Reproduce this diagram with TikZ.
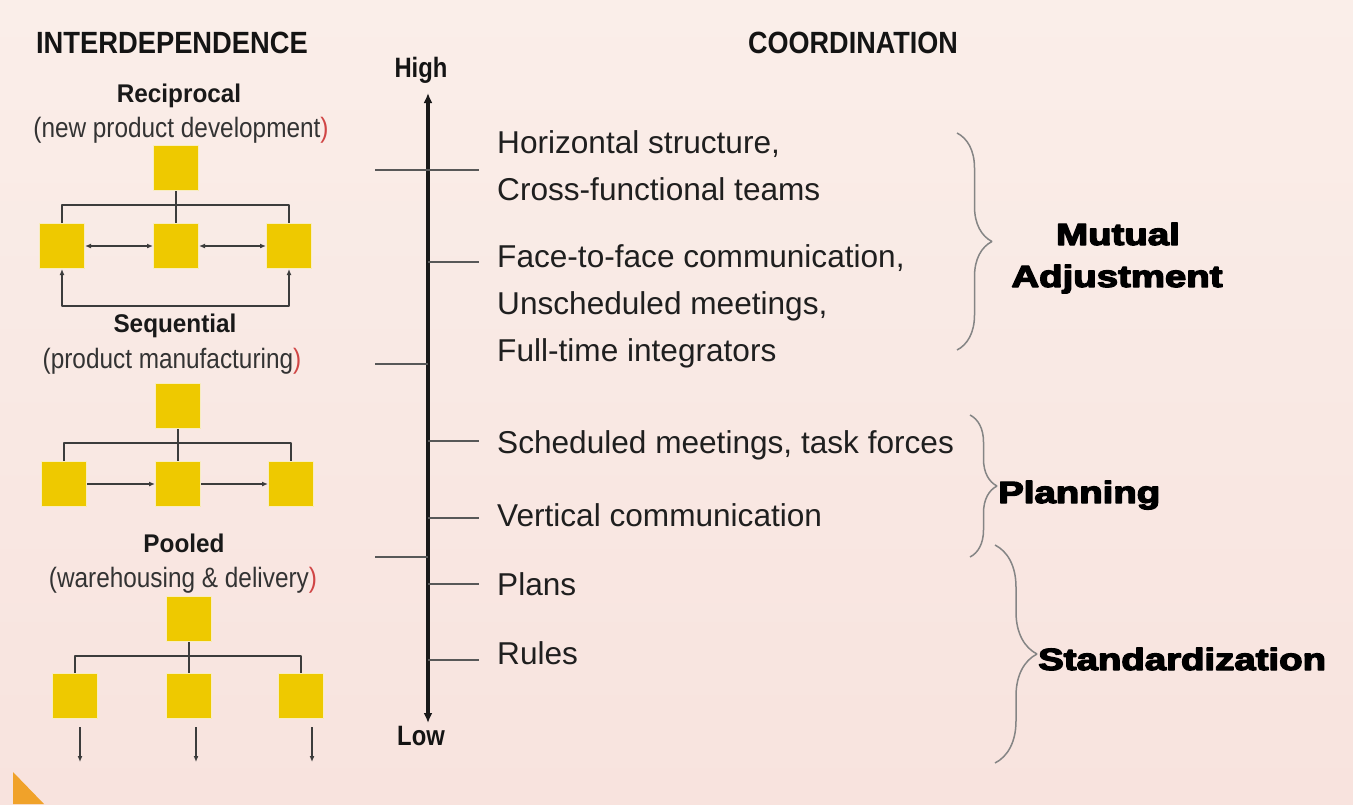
\documentclass[tikz,border=0pt]{standalone}
\usepackage{fontspec}
\setmainfont{Liberation Sans}
\newfontfamily\heavyfont[FakeBold=4]{Liberation Sans Bold}
\usepackage{graphicx}
\usetikzlibrary{arrows.meta,decorations.pathreplacing}
\definecolor{bgtop}{HTML}{FAEEE9}
\definecolor{bgbottom}{HTML}{F8E3DE}
\definecolor{boxyellow}{HTML}{EEC900}
\definecolor{boxrim}{HTML}{F8EDC0}
\definecolor{linkgray}{HTML}{3C3C3C}
\definecolor{tickgray}{HTML}{585858}
\definecolor{bracegray}{HTML}{858585}
\definecolor{parenred}{HTML}{D04545}
\definecolor{cornerorange}{HTML}{F0A22A}
\newcommand{\squeeze}[2]{\scalebox{#1}[1]{#2}}

\begin{document}
\begin{tikzpicture}[x=1pt, y=-1pt, line join=bevel]
  \tikzstyle{unit}=[rectangle, fill=boxyellow, draw=boxrim, line width=1pt, minimum size=45pt, inner sep=0pt]
  \tikzstyle{link}=[draw=linkgray, line width=1.4pt]
  \tikzstyle{oneway}=[link, -{Latex[length=6pt,width=5pt]}]
  \tikzstyle{twoway}=[link, {Latex[length=6pt,width=5pt]}-{Latex[length=6pt,width=5pt]}]
  \tikzstyle{tick}=[draw=tickgray, line width=1.3pt]
  \tikzstyle{axis}=[draw=black!90, line width=3.2pt, {Latex[length=10pt,width=9pt]}-{Latex[length=10pt,width=9pt]}]
  \tikzstyle{brace_line}=[draw=bracegray, line width=1.5pt, decorate]
  \tikzstyle{heading}=[font=\fontsize{30.7}{32}\selectfont\bfseries, text=black!92, anchor=base, inner sep=0pt]
  \tikzstyle{kind}=[font=\fontsize{25.6}{27}\selectfont\bfseries, text=black!90, anchor=base, inner sep=0pt]
  \tikzstyle{case}=[font=\fontsize{28}{29}\selectfont, text=black!80, anchor=base, inner sep=0pt]
  \tikzstyle{level}=[font=\fontsize{28}{29}\selectfont\bfseries, text=black!92, anchor=base, inner sep=0pt]
  \tikzstyle{item}=[font=\fontsize{31.6}{33}\selectfont, text=black!88, anchor=base west, inner sep=0pt]
  \tikzstyle{mode}=[font=\fontsize{30.7}{32}\selectfont\heavyfont, text=black, anchor=base, inner sep=0pt]

  % background and corner
  \useasboundingbox (0,0) rectangle (1353,804);
  \shade[top color=bgtop, bottom color=bgbottom] (0,0) rectangle (1353,804);
  \fill[cornerorange] (13,772) -- (13,804) -- (44,804) -- cycle;

  % headings
  \node[heading] (interHead) at (172,53) {\squeeze{0.89}{INTERDEPENDENCE}};
  \node[heading] (coordHead) at (853,53) {\squeeze{0.88}{COORDINATION}};

  % reciprocal
  \node[kind] (recName) at (179,102) {\squeeze{0.95}{Reciprocal}};
  \node[case] (recCase) at (181,137) {\squeeze{0.87}{(new product development\textcolor{parenred}{)}}};
  \node[unit] (recTop) at (176,168) {};
  \node[unit] (recL) at (62,246) {};
  \node[unit] (recM) at (176,246) {};
  \node[unit] (recR) at (289,246) {};
  \coordinate (recBus) at (176,205);
  \coordinate (recLoop) at (176,306);
  \draw[link] (recTop) -- (recM);
  \draw[link] (recL.north) |- (recBus) -| (recR.north);
  \draw[twoway] (recL) -- (recM);
  \draw[twoway] (recM) -- (recR);
  \draw[twoway] (recL.south) |- (recLoop) -| (recR.south);

  % sequential
  \node[kind] (seqName) at (175,332) {\squeeze{0.95}{Sequential}};
  \node[case] (seqCase) at (172,368) {\squeeze{0.87}{(product manufacturing\textcolor{parenred}{)}}};
  \node[unit] (seqTop) at (178,406) {};
  \node[unit] (seqL) at (64,484) {};
  \node[unit] (seqM) at (178,484) {};
  \node[unit] (seqR) at (291,484) {};
  \coordinate (seqBus) at (178,443);
  \draw[link] (seqTop) -- (seqM);
  \draw[link] (seqL.north) |- (seqBus) -| (seqR.north);
  \draw[oneway] (seqL) -- (seqM);
  \draw[oneway] (seqM) -- (seqR);

  % pooled
  \node[kind] (poolName) at (184,552) {\squeeze{0.95}{Pooled}};
  \node[case] (poolCase) at (183,587) {\squeeze{0.87}{(warehousing \& delivery\textcolor{parenred}{)}}};
  \node[unit] (poolTop) at (189,619) {};
  \node[unit] (poolL) at (75,696) {};
  \node[unit] (poolM) at (189,696) {};
  \node[unit] (poolR) at (301,696) {};
  \coordinate (poolBus) at (189,656);
  \coordinate (poolLout) at (80,762);
  \coordinate (poolMout) at (196,762);
  \coordinate (poolRout) at (312,762);
  \draw[link] (poolTop) -- (poolM);
  \draw[link] (poolL.north) |- (poolBus) -| (poolR.north);
  \draw[oneway] (poolLout |- poolL.south) ++(0,8) -- (poolLout);
  \draw[oneway] (poolMout |- poolM.south) ++(0,8) -- (poolMout);
  \draw[oneway] (poolRout |- poolR.south) ++(0,8) -- (poolRout);

  % high / low scale
  \node[level] (high) at (421,77) {\squeeze{0.85}{High}};
  \node[level] (low) at (421,745) {\squeeze{0.85}{Low}};
  \coordinate (axTop) at (428,93);
  \coordinate (axBot) at (428,723);
  \draw[axis] (axBot) -- (axTop);
  \foreach \y in {170,364,557}
    \draw[tick] (375,\y) -- (428,\y);
  \foreach \y in {170,262,441,518,584,660}
    \draw[tick] (428,\y) -- (479,\y);

  % coordination mechanisms
  \node[item] (horiz) at (497,153) {Horizontal structure,};
  \node[item] (cross) at (497,200) {Cross-functional teams};
  \node[item] (face) at (497,267) {Face-to-face communication,};
  \node[item] (unsched) at (497,314) {Unscheduled meetings,};
  \node[item] (fulltime) at (497,361) {Full-time integrators};
  \node[item] (sched) at (497,453) {Scheduled meetings, task forces};
  \node[item] (vert) at (497,526) {Vertical communication};
  \node[item] (plans) at (497,595) {Plans};
  \node[item] (rules) at (497,664) {Rules};

  % braces
  \draw[brace_line, decoration={brace, amplitude=35pt}] (957,133) -- (957,350);
  \draw[brace_line, decoration={brace, amplitude=27pt}] (970,415) -- (970,557);
  \draw[brace_line, decoration={brace, amplitude=42pt}] (995,545) -- (995,763);
  \node[mode] (mutual) at (1118,245) {\squeeze{1.25}{Mutual}};
  \node[mode] (adjust) at (1117,287) {\squeeze{1.25}{Adjustment}};
  \node[mode, anchor=base west] (planning) at (998,503) {\squeeze{1.25}{Planning}};
  \node[mode, anchor=base west] (standard) at (1038,670) {\squeeze{1.25}{Standardization}};

\end{tikzpicture}
\end{document}
